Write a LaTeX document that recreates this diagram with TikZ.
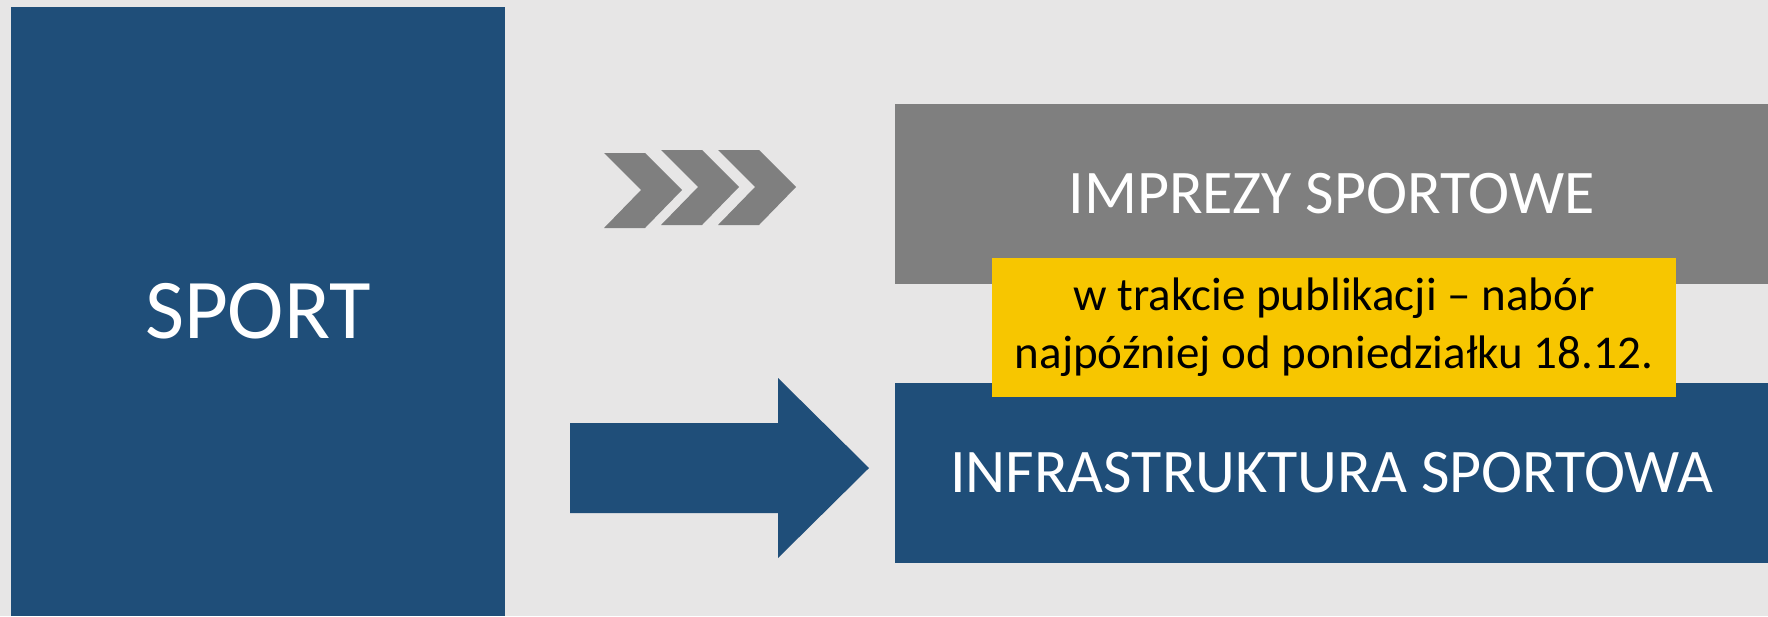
\documentclass[tikz,border=0pt]{standalone}
\usepackage{fontspec}
\setmainfont{Carlito}
\definecolor{bgc}{HTML}{E7E6E6}
\definecolor{navy}{HTML}{1F4E79}
\definecolor{midgray}{HTML}{7F7F7F}
\definecolor{amber}{HTML}{F7C600}
\begin{document}
\begin{tikzpicture}[x=1pt,y=-1pt,
  block/.style={inner sep=0pt, outer sep=0pt, anchor=north west, text=white, align=center},
  chev/.style={fill=midgray, draw=none},
  bigtext/.style={font=\fontsize{62}{74}\selectfont}]
\fill[bgc] (0,0) rectangle (1768,616);
\useasboundingbox (0,0) rectangle (1768,616);
% SPORT box
\node[block, fill=navy, minimum width=494pt, minimum height=609pt, font=\fontsize{85}{102}\selectfont] (sport) at (11,7) {SPORT};
% IMPREZY box
\node[block, fill=midgray, minimum width=873pt, minimum height=180pt, bigtext] (imprezy) at (895,104) {IMPREZY SPORTOWE};
% INFRA box
\node[block, fill=navy, minimum width=873pt, minimum height=180pt, bigtext] (infra) at (895,383) {INFRASTRUKTURA SPORTOWA};
% note
\node[block, fill=amber, text=black, minimum width=684pt, minimum height=139pt, font=\fontsize{47}{57}\selectfont] (note) at (992,258) {\raisebox{0pt}[\height][\depth]{}w trakcie publikacji -- nabór\\[1pt]najpóźniej od poniedziałku 18.12.};
% chevrons
\fill[chev] (604,153) -- (645,153) -- (682,190) -- (645,228) -- (604,228) -- (641,190) -- cycle;
\fill[chev] (661,150) -- (702,150) -- (739,187) -- (702,225) -- (661,225) -- (698,187) -- cycle;
\fill[chev] (718,150) -- (759,150) -- (796,187) -- (759,225) -- (718,225) -- (755,187) -- cycle;
% block arrow
\coordinate (atip) at (869,468);
\fill[navy] (570,423) -- (778,423) -- (778,378) -- (atip) -- (778,558) -- (778,513) -- (570,513) -- cycle;
\end{tikzpicture}
\end{document}
